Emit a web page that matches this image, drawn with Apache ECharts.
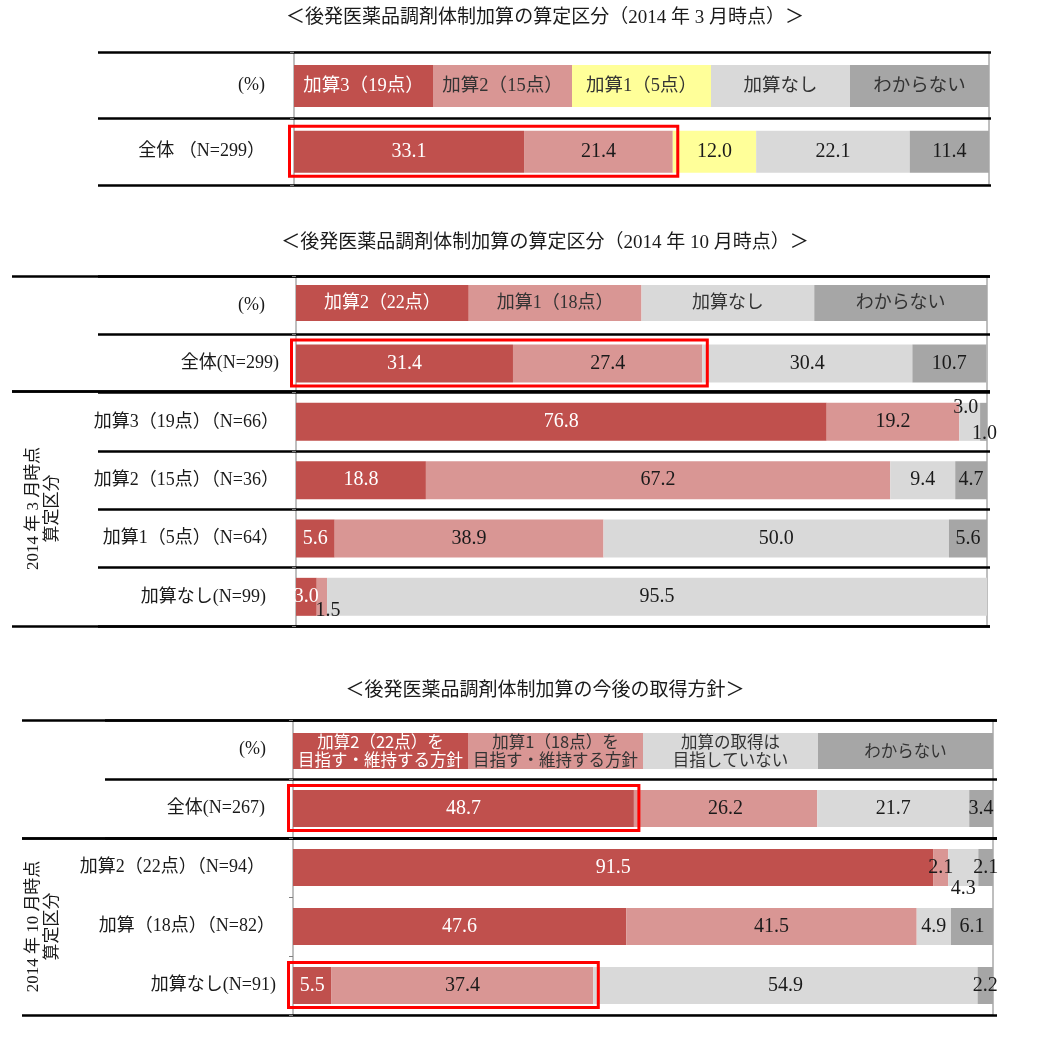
<!DOCTYPE html>
<html lang="ja">
<head>
<meta charset="utf-8">
<title>後発医薬品調剤体制加算</title>
<script src="https://cdn.jsdelivr.net/npm/echarts@6.0.0/dist/echarts.min.js"></script>
<style>
html,body{margin:0;padding:0;background:#fff;}
#chart{width:1047px;height:1037px;}
</style>
</head>
<body>
<div id="chart"></div>
<script>
// ===================== DATA =====================
const titleMarch   = '＜後発医薬品調剤体制加算の算定区分（2014 年 3 月時点）＞';
const titleOctober = '＜後発医薬品調剤体制加算の算定区分（2014 年 10 月時点）＞';
const titlePolicy  = '＜後発医薬品調剤体制加算の今後の取得方針＞';
const unitLabel = '(%)';

// Section 1 : 2014年3月時点
const marchSeries = ['加算3（19点）', '加算2（15点）', '加算1（5点）', '加算なし', 'わからない'];
const marchRows = ['全体 （N=299）'];
const marchValues = [
  [33.1, 21.4, 12.0, 22.1, 11.4]
];

// Section 2 : 2014年10月時点
const octoberSeries = ['加算2（22点）', '加算1（18点）', '加算なし', 'わからない'];
const octoberRows = ['全体(N=299)', '加算3（19点）（N=66）', '加算2（15点）（N=36）', '加算1（5点）（N=64）', '加算なし(N=99)'];
const octoberValues = [
  [31.4, 27.4, 30.4, 10.7],
  [76.8, 19.2, 3.0, 1.0],
  [18.8, 67.2, 9.4, 4.7],
  [5.6, 38.9, 50.0, 5.6],
  [3.0, 1.5, 95.5, 0]
];
const octoberGroupLabel = '2014 年 3 月時点\n算定区分';

// Section 3 : 今後の取得方針
const policySeries = ['加算2（22点）を\n目指す・維持する方針', '加算1（18点）を\n目指す・維持する方針', '加算の取得は\n目指していない', 'わからない'];
const policyRows = ['全体(N=267)', '加算2（22点）（N=94）', '加算（18点）（N=82）', '加算なし(N=91)'];
const policyValues = [
  [48.7, 26.2, 21.7, 3.4],
  [91.5, 2.1, 4.3, 2.1],
  [47.6, 41.5, 4.9, 6.1],
  [5.5, 37.4, 54.9, 2.2]
];
const policyGroupLabel = '2014 年 10 月時点\n算定区分';

// red frames: [row, number of leading segments framed]
const marchFramed = [['全体 （N=299）', 2]];
const octoberFramed = [['全体(N=299)', 2]];
const policyFramed = [['全体(N=267)', 1], ['加算なし(N=91)', 2]];

// ===================== STYLE / LAYOUT =====================
const SERIF = "'Liberation Serif', 'Noto Sans CJK JP', serif";
const GOTHIC = "'Noto Sans CJK JP', 'Noto Sans', sans-serif";
const RED = '#C0504D', PINK = '#D99694', YELLOW = '#FFFF99', LGRAY = '#D9D9D9', DGRAY = '#A6A6A6';
const INK = '#1a1a1a', HEAD = '#333333';

const sections = [
  {
    title: titleMarch, names: marchSeries, rows: marchRows, values: marchValues, framed: marchFramed,
    colors: [RED, PINK, YELLOW, LGRAY, DGRAY],
    labelColors: ['#ffffff', INK, INK, INK, INK],
    headColors: ['#ffffff', HEAD, HEAD, HEAD, HEAD],
    nudges: {},
    L: { titleTop: 9, top: 52, bottom: 185, x0: 294, x100: 989, lineR: 991,
         shortL: 98, shortBottom: 185, shortN: 2, longL: 0, longBands: [],
         barW: 42, legendTop: 65, legendH: 42, legendFont: SERIF, legendSize: 18.5,
         labelMargin: 29, labelPad: [0, 0] }
  },
  {
    title: titleOctober, names: octoberSeries, rows: octoberRows, values: octoberValues, framed: octoberFramed,
    colors: [RED, PINK, LGRAY, DGRAY],
    labelColors: ['#ffffff', INK, INK, INK],
    headColors: ['#ffffff', HEAD, HEAD, HEAD],
    nudges: { '1,2': [-4, -14], '1,3': [1, 12], '4,1': [6, 14] },
    L: { titleTop: 234, top: 276, bottom: 626, x0: 296, x100: 987, lineR: 990,
         shortL: 98, shortBottom: 626, shortN: 6, longL: 12,
         longBands: [{ top: 276, bottom: 391 }, { top: 391, bottom: 626, name: octoberGroupLabel, nameGap: -31 }],
         barW: 38, legendTop: 285, legendH: 36, legendFont: SERIF, legendSize: 18,
         labelMargin: 17, labelPad: [14, 0, 0, 0, 0, 13] }
  },
  {
    title: titlePolicy, names: policySeries, rows: policyRows, values: policyValues, framed: policyFramed,
    colors: [RED, PINK, LGRAY, DGRAY],
    labelColors: ['#ffffff', INK, INK, INK],
    headColors: ['#ffffff', HEAD, HEAD, HEAD],
    nudges: { '1,2': [0, 21] },
    L: { titleTop: 682, top: 720, bottom: 1015, x0: 293, x100: 993, lineR: 997,
         shortL: 105, shortBottom: 838, shortN: 2, longL: 22,
         longBands: [{ top: 720, bottom: 838 }, { top: 838, bottom: 1015, name: policyGroupLabel, nameGap: -21 }],
         barW: 37, legendTop: 733, legendH: 36, legendFont: GOTHIC, legendSize: 16.5,
         labelMargin: 17, labelPad: [10, 11, 11, 1, 0] }
  }
];

// ===================== BUILD =====================
const option = { animation: false, backgroundColor: '#ffffff', title: [], legend: [], grid: [], xAxis: [], yAxis: [], series: [] };

function addGrid(g, x, y) {
  option.grid.push(Object.assign({ outerBoundsMode: 'none', containLabel: false }, g));
  const gi = option.grid.length - 1;
  option.xAxis.push(Object.assign({ gridIndex: gi }, x));
  option.yAxis.push(Object.assign({ gridIndex: gi }, y));
  return gi;
}

function lineBand(left, right, top, bottom, cats, extraY) {
  return addGrid(
    { left: left, top: top, width: right - left, height: bottom - top },
    { type: 'value', min: 0, max: 100, show: false },
    Object.assign({
      type: 'category', inverse: true, data: cats,
      axisLine: { show: false }, axisTick: { show: false }, axisLabel: { show: false },
      splitLine: { show: true, interval: 0, lineStyle: { color: '#000000', width: 2.5 } }
    }, extraY || {})
  );
}

sections.forEach(function (sec, k) {
  const L = sec.L;
  const cats = [unitLabel].concat(sec.rows);

  option.title.push({
    text: sec.title, left: 545, top: L.titleTop, textAlign: 'center', padding: 0,
    textStyle: { fontSize: 19, fontWeight: 'normal', color: INK, fontFamily: SERIF }
  });

  // separator lines
  lineBand(L.shortL, L.lineR, L.top, L.shortBottom, cats.slice(0, L.shortN));
  L.longBands.forEach(function (b, bi) {
    const extra = b.name ? {
      name: b.name, nameLocation: 'middle', nameRotate: 90, nameGap: b.nameGap,
      nameTextStyle: { fontSize: 17, lineHeight: 19, color: INK, fontFamily: SERIF, align: 'center', verticalAlign: 'middle' }
    } : null;
    lineBand(L.longL, L.lineR, b.top, b.bottom, ['band' + bi], extra);
  });

  // main grid
  const rich = {};
  cats.forEach(function (c, i) {
    rich['p' + i] = { fontSize: 18, fontFamily: SERIF, color: INK, padding: [0, L.labelPad[i] || 0, 0, 0] };
  });
  const gi = addGrid(
    { left: L.x0, top: L.top, width: L.x100 - L.x0, height: L.bottom - L.top, show: true, borderColor: '#7f7f7f', borderWidth: 1 },
    { type: 'value', min: 0, max: 100, show: false },
    {
      type: 'category', inverse: true, data: cats,
      axisLine: { show: false },
      axisTick: { show: true, length: 4, interval: 0, lineStyle: { color: '#7f7f7f', width: 1 } },
      axisLabel: { interval: 0, margin: L.labelMargin, formatter: function (v, i) { return '{p' + i + '|' + v + '}'; }, rich: rich },
      splitLine: { show: false }
    }
  );

  sec.names.forEach(function (name, j) {
    const data = [null].concat(sec.rows.map(function (r, i) {
      const v = sec.values[i][j];
      const n = sec.nudges[i + ',' + j];
      return n ? { value: v, label: { offset: n } } : v;
    }));
    option.series.push({
      type: 'bar', name: name, xAxisIndex: gi, yAxisIndex: gi, stack: 'sec' + k,
      barWidth: L.barW, data: data,
      itemStyle: { color: sec.colors[j] },
      emphasis: { disabled: true },
      label: {
        show: true, position: 'inside', color: sec.labelColors[j], fontSize: 20, fontFamily: SERIF,
        formatter: function (p) { return p.value ? Number(p.value).toFixed(1) : ''; }
      }
    });
  });

  // red frames around highlighted segments
  option.series.push({
    type: 'custom', xAxisIndex: gi, yAxisIndex: gi, z: 6, silent: true, clip: false,
    dimensions: ['row', 'from', 'to'],
    encode: { y: 0, x: [1, 2] },
    data: sec.framed.map(function (f) {
      const i = sec.rows.indexOf(f[0]);
      const end = sec.values[i].slice(0, f[1]).reduce(function (a, b) { return a + b; }, 0);
      return [f[0], 0, end];
    }),
    renderItem: function (params, api) {
      const c0 = api.coord([api.value(1), api.value(0)]);
      const c1 = api.coord([api.value(2), api.value(0)]);
      const h = L.barW;
      return {
        type: 'rect',
        shape: { x: c0[0] - 4.5, y: c0[1] - h / 2 - 4.5, width: c1[0] - c0[0] + 9.5, height: h + 8 },
        style: { fill: 'none', stroke: '#FF0000', lineWidth: 3 }
      };
    }
  });

  // header legend blocks
  const blockW = (L.x100 - L.x0) / sec.names.length;
  const lrich = {};
  sec.names.forEach(function (name, j) {
    const nl = name.split('\n').length;
    lrich['h' + j] = {
      width: blockW, height: L.legendH / nl, lineHeight: L.legendH / nl, align: 'center', verticalAlign: 'middle',
      backgroundColor: sec.colors[j], color: sec.headColors[j], fontSize: L.legendSize, fontFamily: L.legendFont
    };
  });
  option.legend.push({
    left: L.x0 - 5, top: L.legendTop, padding: 0, itemGap: -5, itemWidth: 0, itemHeight: L.legendH,
    icon: 'rect', selectedMode: false, orient: 'horizontal',
    data: sec.names.slice(),
    formatter: function (name) {
      const j = sec.names.indexOf(name);
      return name.split('\n').map(function (t) { return '{h' + j + '|' + t + '}'; }).join('\n');
    },
    textStyle: { rich: lrich }
  });
});

const chart = echarts.init(document.getElementById('chart'), null, { renderer: 'canvas' });
chart.setOption(option);
</script>
</body>
</html>
